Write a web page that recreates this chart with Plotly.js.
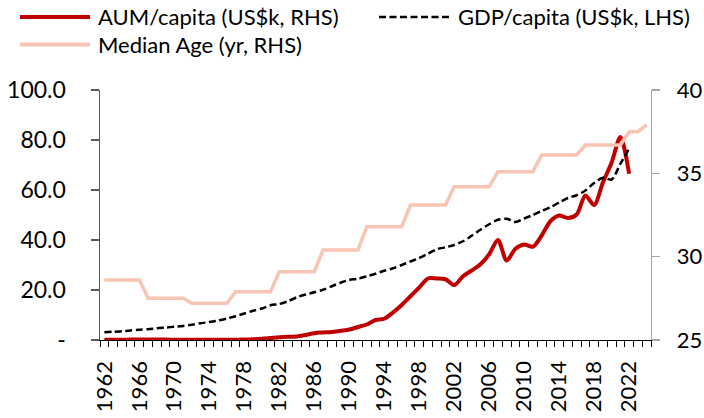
<!DOCTYPE html>
<html>
<head>
<meta charset="utf-8">
<script src="https://cdn.plot.ly/plotly-3.0.1.min.js"></script>
<style>
  html, body { margin: 0; padding: 0; background: #fff; }
  #chart { width: 704px; height: 418px; }
</style>
</head>
<body>
<div id="chart"></div>
<script>
// ---- Data ----
const years = [];
for (let y = 1962; y <= 2024; y++) years.push(y);

const aumPerCapita = [
  0.1, 0.1, 0.1, 0.2, 0.2, 0.2, 0.2, 0.2, 0.1, 0.1,   // 1962-1971
  0.1, 0.1, 0.1, 0.1, 0.1, 0.1, 0.2, 0.3, 0.5, 0.8,   // 1972-1981
  1.1, 1.3, 1.4, 2.0, 2.7, 3.0, 3.2, 3.7, 4.2, 5.2,   // 1982-1991
  6.2, 8.0, 8.5, 11.0, 14.0, 17.5, 21.0, 24.6, 24.6, 24.3, // 1992-2001
  22.0, 25.5, 27.8, 30.3, 34.3, 40.0, 31.8, 36.5, 38.2, 37.3, // 2002-2011
  41.8, 47.5, 49.8, 48.8, 50.2, 57.8, 54.0, 63.0, 71.0, 81.2, // 2012-2021
  66.5, null, null                                     // 2022-2024
];

const gdpPerCapita = [
  3.1, 3.3, 3.5, 3.8, 4.1, 4.3, 4.7, 5.0, 5.3, 5.6,   // 1962-1971
  6.1, 6.7, 7.2, 7.8, 8.6, 9.5, 10.6, 11.7, 12.6, 13.9, // 1972-1981
  14.4, 15.5, 17.1, 18.2, 19.1, 20.1, 21.5, 22.9, 24.0, 24.5, // 1982-1991
  25.5, 26.5, 27.7, 28.7, 30.0, 31.4, 32.8, 34.5, 36.3, 37.1, // 1992-2001
  38.0, 39.5, 41.7, 44.1, 46.3, 48.1, 48.5, 47.2, 48.6, 50.0, // 2002-2011
  51.6, 53.1, 55.0, 56.8, 57.9, 59.8, 62.8, 64.9, 64.2, 70.5, // 2012-2021
  76.5, null, null                                      // 2022-2024
];

const medianAge = [
  28.6, 28.6, 28.6, 28.6, 28.6, 27.5, 27.5, 27.5, 27.5, 27.5, // 1962-1971
  27.2, 27.2, 27.2, 27.2, 27.2, 27.9, 27.9, 27.9, 27.9, 27.9, // 1972-1981
  29.1, 29.1, 29.1, 29.1, 29.1, 30.4, 30.4, 30.4, 30.4, 30.4, // 1982-1991
  31.8, 31.8, 31.8, 31.8, 31.8, 33.1, 33.1, 33.1, 33.1, 33.1, // 1992-2001
  34.2, 34.2, 34.2, 34.2, 34.2, 35.1, 35.1, 35.1, 35.1, 35.1, // 2002-2011
  36.1, 36.1, 36.1, 36.1, 36.1, 36.7, 36.7, 36.7, 36.7, 36.7, // 2012-2021
  37.5, 37.5, 37.9                                            // 2022-2024
];

const xTickYears = [1962, 1966, 1970, 1974, 1978, 1982, 1986, 1990, 1994, 1998, 2002, 2006, 2010, 2014, 2018, 2022];
const leftTickVals = [0, 20, 40, 60, 80, 100];
const leftTickText = ['-', '20.0', '40.0', '60.0', '80.0', '100.0'];
const rightTickVals = [25, 30, 35, 40];
const rightTickText = ['25', '30', '35', '40'];

const seriesNames = ['AUM/capita (US$k, RHS)', 'GDP/capita (US$k, LHS)', 'Median Age (yr, RHS)'];

const FONT = 'Lato, "Liberation Sans", Arial, sans-serif';
const C_AUM = '#C00000', C_GDP = '#000000', C_AGE = '#F8C4B3';
const GDP_DASH = '7px,3.5px';

const traces = [
  {
    name: seriesNames[2], x: years, y: medianAge, yaxis: 'y2',
    type: 'scatter', mode: 'lines',
    line: { color: C_AGE, width: 3.5 }
  },
  {
    name: seriesNames[0], x: years, y: aumPerCapita,
    type: 'scatter', mode: 'lines',
    line: { color: C_AUM, width: 4, shape: 'spline', smoothing: 0.8 }
  },
  {
    name: seriesNames[1], x: years, y: gdpPerCapita,
    type: 'scatter', mode: 'lines',
    line: { color: C_GDP, width: 2.5, dash: GDP_DASH, shape: 'spline', smoothing: 0.8 }
  }
];

// ---- Legend drawn as shapes + annotations above the plot (paper coords) ----
const L = 100, PW = 551, T = 90, PH = 250;
const px = v => (v - L) / PW;
const py = v => (T + PH - v) / PH;
const legendItems = [
  { name: seriesNames[0], x0: 20, x1: 90, tx: 96, y: 17, line: { color: C_AUM, width: 4 } },
  { name: seriesNames[1], x0: 379, x1: 449, tx: 456, y: 17, line: { color: C_GDP, width: 2.5, dash: GDP_DASH } },
  { name: seriesNames[2], x0: 20, x1: 90, tx: 96, y: 44.5, line: { color: C_AGE, width: 4 } }
];
const shapes = legendItems.map(it => ({
  type: 'line', xref: 'paper', yref: 'paper',
  x0: px(it.x0), x1: px(it.x1), y0: py(it.y), y1: py(it.y), line: it.line
}));
const annotations = legendItems.map(it => ({
  xref: 'paper', yref: 'paper', x: px(it.tx), y: py(it.y),
  xanchor: 'left', yanchor: 'middle', showarrow: false, text: it.name,
  font: { family: FONT, size: 22, color: '#000000' }
}));

const layout = {
  width: 704, height: 418,
  margin: { l: L, r: 704 - L - PW, t: T, b: 418 - T - PH },
  paper_bgcolor: '#ffffff', plot_bgcolor: '#ffffff',
  font: { family: FONT, color: '#000000', size: 22 },
  showlegend: false,
  shapes: shapes,
  annotations: annotations,
  xaxis: {
    type: 'linear', range: [1961.5, 2024.5],
    tickmode: 'array', tickvals: xTickYears, ticktext: xTickYears.map(String),
    tickangle: -90, ticks: '', ticklabelstandoff: 11,
    tickfont: { family: FONT, size: 22, color: '#000000' },
    showline: true, linecolor: '#000000', linewidth: 1.3,
    showgrid: false, zeroline: false, fixedrange: true,
    minor: { tickmode: 'linear', tick0: 1961.5, dtick: 1, ticks: 'outside', ticklen: 6, tickcolor: '#000000', tickwidth: 1, showgrid: false }
  },
  yaxis: {
    range: [0, 100], tickmode: 'array', tickvals: leftTickVals, ticktext: leftTickText,
    ticks: 'outside', ticklen: 8, tickcolor: '#595959', tickwidth: 1.3,
    ticklabelstandoff: 20,
    tickfont: { family: FONT, size: 23, color: '#000000' },
    showline: true, linecolor: '#595959', linewidth: 1.5,
    showgrid: false, zeroline: false, fixedrange: true
  },
  yaxis2: {
    range: [25, 40], overlaying: 'y', side: 'right',
    tickmode: 'array', tickvals: rightTickVals, ticktext: rightTickText,
    ticks: 'outside', ticklen: 8, tickcolor: '#A6A6A6', tickwidth: 1.3,
    ticklabelstandoff: 12,
    tickfont: { family: FONT, size: 22, color: '#000000' },
    showline: true, linecolor: '#A6A6A6', linewidth: 1.3,
    showgrid: false, zeroline: false, fixedrange: true
  }
};

Plotly.newPlot('chart', traces, layout, { displayModeBar: false, staticPlot: true });
</script>
</body>
</html>
